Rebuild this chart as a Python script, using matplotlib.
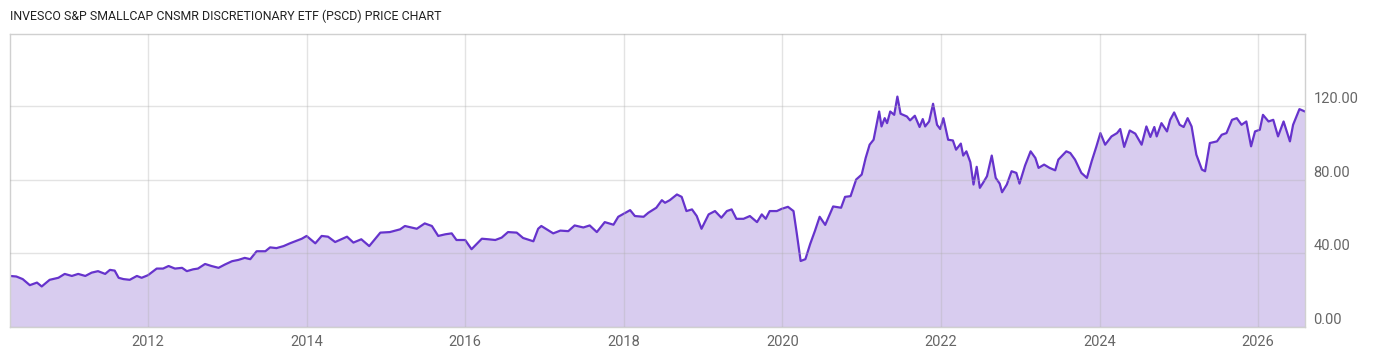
import matplotlib
matplotlib.use("Agg")
import matplotlib.pyplot as plt

# decimal year, closing price
years = [
    2010.26, 2010.34, 2010.42, 2010.51, 2010.60, 2010.66, 2010.76, 2010.87, 2010.95,
    2011.04, 2011.12, 2011.21, 2011.29, 2011.37, 2011.46, 2011.52, 2011.58, 2011.63,
    2011.69, 2011.77, 2011.86, 2011.92, 2012.00, 2012.11, 2012.19, 2012.26, 2012.34,
    2012.43, 2012.49, 2012.57, 2012.63, 2012.72, 2012.80, 2012.89, 2012.97, 2013.06,
    2013.14, 2013.22, 2013.29, 2013.37, 2013.48, 2013.54, 2013.62, 2013.71, 2013.79,
    2013.88, 2013.94, 2014.00, 2014.11, 2014.19, 2014.27, 2014.36, 2014.51, 2014.59,
    2014.69, 2014.79, 2014.93, 2015.05, 2015.18, 2015.24, 2015.39, 2015.49, 2015.58,
    2015.66, 2015.75, 2015.83, 2015.89, 2016.00, 2016.08, 2016.21, 2016.29, 2016.38,
    2016.46, 2016.54, 2016.65, 2016.73, 2016.86, 2016.92, 2016.96, 2017.11, 2017.20,
    2017.30, 2017.38, 2017.49, 2017.57, 2017.66, 2017.76, 2017.87, 2017.93, 2018.08,
    2018.14, 2018.25, 2018.31, 2018.41, 2018.48, 2018.52, 2018.58, 2018.67, 2018.73,
    2018.79, 2018.86, 2018.92, 2018.98, 2019.07, 2019.15, 2019.23, 2019.30, 2019.36,
    2019.42, 2019.51, 2019.59, 2019.68, 2019.74, 2019.79, 2019.84, 2019.93, 2019.99,
    2020.07, 2020.14, 2020.18, 2020.23, 2020.29, 2020.35, 2020.41, 2020.47, 2020.54,
    2020.64, 2020.74, 2020.79, 2020.86, 2020.93, 2021.00, 2021.05, 2021.10, 2021.15,
    2021.22, 2021.25, 2021.29, 2021.32, 2021.36, 2021.41, 2021.45, 2021.49, 2021.57,
    2021.61, 2021.67, 2021.73, 2021.77, 2021.80, 2021.85, 2021.90, 2021.95, 2021.99,
    2022.03, 2022.09, 2022.15, 2022.19, 2022.25, 2022.28, 2022.32, 2022.37, 2022.41,
    2022.45, 2022.49, 2022.53, 2022.58, 2022.64, 2022.69, 2022.74, 2022.77, 2022.83,
    2022.89, 2022.95, 2022.99, 2023.06, 2023.13, 2023.19, 2023.23, 2023.30, 2023.37,
    2023.44, 2023.48, 2023.58, 2023.63, 2023.69, 2023.77, 2023.84, 2023.90, 2023.96,
    2024.01, 2024.07, 2024.15, 2024.22, 2024.26, 2024.31, 2024.38, 2024.45, 2024.53,
    2024.59, 2024.64, 2024.69, 2024.72, 2024.78, 2024.85, 2024.89, 2024.94, 2025.01,
    2025.06, 2025.11, 2025.16, 2025.22, 2025.29, 2025.33, 2025.39, 2025.48, 2025.54,
    2025.60, 2025.67, 2025.73, 2025.79, 2025.85, 2025.91, 2025.96, 2026.02, 2026.06,
    2026.13, 2026.19, 2026.25, 2026.32, 2026.40, 2026.44, 2026.52, 2026.59,
]
prices = [
    27.7, 27.4, 26.0, 22.7, 24.1, 22.0, 25.6, 26.7, 28.8,
    27.7, 28.8, 27.7, 29.5, 30.3, 28.8, 31.0, 30.6, 26.7,
    26.0, 25.6, 27.7, 26.7, 28.1, 31.7, 31.7, 33.1, 31.7,
    32.1, 30.3, 31.3, 31.7, 34.2, 33.1, 32.1, 33.9, 35.7,
    36.4, 37.5, 36.8, 41.1, 41.1, 43.2, 42.8, 43.9, 45.4,
    46.9, 47.9, 49.4, 45.4, 49.4, 49.0, 46.1, 49.0, 45.8,
    47.6, 43.9, 51.2, 51.5, 53.0, 54.8, 53.3, 56.2, 54.8,
    49.4, 50.3, 50.8, 47.2, 47.2, 42.2, 47.9, 47.6, 47.2,
    48.5, 51.5, 51.2, 48.3, 46.5, 53.3, 54.8, 50.8, 52.3,
    52.0, 55.1, 54.0, 55.1, 51.5, 56.9, 55.5, 59.8, 63.4,
    60.2, 59.8, 62.0, 64.7, 68.8, 67.4, 68.8, 71.9, 70.6,
    62.9, 63.8, 60.2, 53.3, 61.1, 62.9, 59.3, 62.9, 63.8,
    58.7, 58.7, 60.2, 56.9, 61.1, 58.7, 62.9, 62.9, 64.1,
    65.2, 62.9, 51.2, 35.8, 36.8, 45.0, 52.1, 59.8, 55.4,
    65.4, 64.7, 70.6, 71.0, 80.0, 82.7, 91.7, 98.9, 101.6,
    116.9, 108.8, 113.3, 110.6, 116.9, 115.1, 125.0, 115.7, 114.2,
    112.1, 114.6, 108.5, 112.8, 108.8, 111.5, 121.1, 109.7, 107.4,
    113.3, 101.6, 101.2, 96.2, 99.5, 93.0, 95.3, 89.4, 77.3,
    86.9, 75.5, 78.2, 81.8, 93.0, 80.9, 77.8, 73.1, 77.3,
    84.5, 83.6, 77.8, 87.6, 95.3, 91.7, 86.3, 88.1, 86.3,
    85.0, 90.8, 95.3, 94.4, 90.8, 83.6, 80.9, 89.9, 98.0,
    105.2, 98.9, 103.4, 105.2, 107.4, 97.7, 106.6, 104.9, 98.9,
    108.8, 103.1, 108.5, 103.4, 110.6, 106.1, 112.4, 116.4, 109.7,
    108.5, 113.3, 108.8, 93.5, 85.4, 84.5, 99.8, 100.7, 104.3,
    105.2, 112.4, 113.3, 109.7, 111.5, 98.0, 106.1, 107.0, 115.1,
    111.5, 112.4, 103.4, 111.5, 100.7, 109.7, 118.2, 116.9,
]

year_ticks = [2012, 2014, 2016, 2018, 2020, 2022, 2024, 2026]
price_ticks = [0, 40, 80, 120]
title = "INVESCO S&P SMALLCAP CNSMR DISCRETIONARY ETF (PSCD) PRICE CHART"

plt.rcParams['font.family'] = ['Roboto', 'DejaVu Sans']

fig = plt.figure(figsize=(14, 3.57), dpi=100)
ax = fig.add_axes([0.00714, 0.084, 0.9250, 0.821])

ax.fill_between(years, prices, 0, color='#d8ccef', linewidth=0)
ax.plot(years, prices, color='#6633cc', linewidth=1.6)

ax.set_xlim(2010.26, 2026.59)
ax.set_ylim(0, 159)
ax.set_xticks(year_ticks)
ax.set_xticklabels([str(y) for y in year_ticks])
ax.set_yticks(price_ticks)
ax.set_yticklabels(['%.2f' % p for p in price_ticks])
ax.yaxis.tick_right()
for lbl in ax.get_yticklabels():
    lbl.set_verticalalignment('bottom')

ax.grid(True, color='#b0b0b0', alpha=0.35, linewidth=1)
ax.set_axisbelow(False)
ax.tick_params(length=0, labelsize=10.5, colors='#666666', pad=6)
for s in ax.spines.values():
    s.set_color('#d0d0d0')
    s.set_linewidth(1)

fig.text(0.00714, 0.955, title, fontsize=8.9, color='#222222', va='center', ha='left')

fig.savefig('out.png', dpi=100)
